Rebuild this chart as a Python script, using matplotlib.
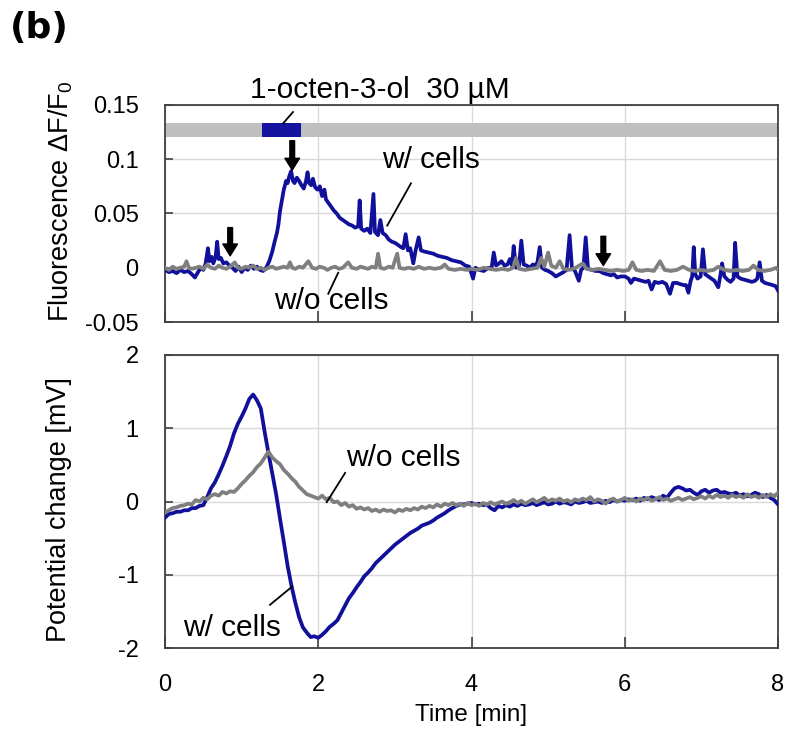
import numpy as np
import matplotlib
matplotlib.use("Agg")
import matplotlib.pyplot as plt

plt.rcParams['font.family'] = ['Liberation Sans', 'DejaVu Sans']
plt.rcParams['mathtext.fontset'] = 'custom'
plt.rcParams['mathtext.rm'] = 'Liberation Sans'
plt.rcParams['mathtext.it'] = 'Liberation Sans'

BLUE = '#10109a'
GRAY = '#7f7f7f'
SPINE = '#404040'
GRID = '#d9d9d9'

# ---------------- Fluorescence (dF/F0) ----------------
fl_cells_t = [0.00, 0.05, 0.10, 0.15, 0.20, 0.25, 0.30, 0.35, 0.39, 0.43, 0.47, 0.50, 0.53, 0.56, 0.58,
              0.61, 0.63, 0.66, 0.68, 0.70, 0.73, 0.76, 0.80, 0.84, 0.88, 0.92, 0.96, 1.00, 1.04, 1.08,
              1.12, 1.16, 1.20, 1.24, 1.28, 1.32, 1.36, 1.40, 1.43, 1.46, 1.48, 1.50, 1.52, 1.55, 1.58,
              1.60, 1.62, 1.645, 1.67, 1.69, 1.72, 1.75, 1.78, 1.81, 1.84, 1.86, 1.88, 1.91, 1.93, 1.96,
              1.99, 2.02, 2.05, 2.08, 2.10, 2.13, 2.16, 2.20, 2.24, 2.28, 2.32, 2.36, 2.40, 2.44, 2.48,
              2.52, 2.54, 2.56, 2.60, 2.64, 2.68, 2.72, 2.74, 2.78, 2.81, 2.84, 2.88, 2.92, 2.96, 3.00,
              3.04, 3.08, 3.11, 3.14, 3.17, 3.20, 3.24, 3.27, 3.31, 3.34, 3.38, 3.44, 3.50, 3.56, 3.62,
              3.68, 3.74, 3.80, 3.86, 3.92, 3.97, 4.02, 4.05, 4.10, 4.16, 4.22, 4.26, 4.29, 4.32, 4.36,
              4.39, 4.43, 4.47, 4.50, 4.53, 4.55, 4.58, 4.62, 4.65, 4.68, 4.72, 4.76, 4.80, 4.83, 4.86,
              4.89, 4.92, 4.96, 5.00, 5.05, 5.10, 5.15, 5.20, 5.24, 5.28, 5.31, 5.35, 5.40, 5.43, 5.46,
              5.49, 5.52, 5.57, 5.62, 5.67, 5.72, 5.77, 5.82, 5.86, 5.90, 5.95, 6.00, 6.05, 6.08, 6.12,
              6.17, 6.22, 6.27, 6.31, 6.35, 6.39, 6.44, 6.49, 6.54, 6.59, 6.63, 6.68, 6.72, 6.77, 6.80,
              6.83, 6.86, 6.88, 6.90, 6.92, 6.95, 6.99, 7.02, 7.05, 7.09, 7.13, 7.17, 7.22, 7.25, 7.27,
              7.30, 7.34, 7.38, 7.42, 7.44, 7.47, 7.51, 7.56, 7.61, 7.66, 7.70, 7.73, 7.76, 7.79, 7.83,
              7.88, 7.93, 7.97, 8.00]
fl_cells = [-0.002, -0.004, -0.003, -0.005, -0.002, -0.004, -0.003, -0.006, -0.009, -0.004, 0.000, -0.002, 0.004, 0.018, 0.006,
            0.010, 0.004, 0.010, 0.024, 0.008, 0.009, 0.004, 0.005, 0.002, 0.000, -0.003, 0.001, -0.004, 0.000, -0.002,
            0.002, -0.001, 0.001, -0.002, -0.003, 0.000, 0.006, 0.015, 0.024, 0.032, 0.040, 0.052, 0.060, 0.072, 0.080,
            0.078, 0.084, 0.089, 0.080, 0.078, 0.083, 0.080, 0.076, 0.073, 0.080, 0.088, 0.078, 0.076, 0.082, 0.074,
            0.072, 0.075, 0.066, 0.072, 0.063, 0.060, 0.057, 0.053, 0.050, 0.046, 0.044, 0.042, 0.040, 0.039, 0.037,
            0.038, 0.062, 0.036, 0.034, 0.036, 0.032, 0.068, 0.033, 0.030, 0.044, 0.032, 0.030, 0.026, 0.024, 0.023,
            0.021, 0.019, 0.018, 0.031, 0.016, 0.018, 0.004, 0.016, 0.028, 0.016, 0.015, 0.014, 0.013, 0.011, 0.010,
            0.009, 0.007, 0.006, 0.005, 0.002, 0.001, -0.010, 0.000, -0.002, -0.003, 0.000, -0.001, 0.014, 0.002, 0.004,
            0.006, 0.002, 0.003, 0.008, 0.002, 0.020, 0.000, 0.002, 0.025, 0.003, 0.002, 0.000, 0.003, 0.002, 0.005,
            0.019, 0.000, -0.002, -0.003, -0.005, -0.008, -0.006, -0.004, -0.002, 0.030, 0.000, -0.003, -0.012, -0.002, 0.000,
            0.028, -0.001, -0.002, -0.003, -0.003, -0.005, -0.006, -0.007, -0.006, -0.009, -0.008, -0.008, -0.010, -0.014, -0.010,
            -0.011, -0.012, -0.013, -0.012, -0.020, -0.013, -0.014, -0.013, -0.015, -0.024, -0.014, -0.014, -0.015, -0.016, -0.016,
            -0.023, -0.012, -0.008, 0.019, -0.006, -0.010, -0.008, 0.017, -0.006, -0.008, -0.010, -0.012, -0.018, -0.006, 0.004,
            -0.008, -0.011, -0.013, -0.010, 0.023, -0.008, -0.010, -0.011, -0.012, -0.013, -0.012, -0.010, 0.005, -0.012, -0.014,
            -0.015, -0.016, -0.017, -0.021]

fl_nocells_t = [0.00, 0.05, 0.10, 0.15, 0.20, 0.25, 0.28, 0.31, 0.35, 0.40, 0.45, 0.50, 0.55, 0.60, 0.65,
                0.70, 0.75, 0.80, 0.85, 0.91, 0.95, 1.00, 1.05, 1.10, 1.15, 1.20, 1.25, 1.30, 1.35, 1.40,
                1.45, 1.50, 1.55, 1.60, 1.63, 1.66, 1.70, 1.75, 1.80, 1.87, 1.92, 1.97, 2.02, 2.07, 2.12,
                2.17, 2.22, 2.27, 2.32, 2.39, 2.44, 2.50, 2.55, 2.60, 2.65, 2.70, 2.75, 2.78, 2.81, 2.86,
                2.92, 2.97, 3.03, 3.06, 3.12, 3.18, 3.25, 3.31, 3.38, 3.45, 3.52, 3.60, 3.65, 3.70, 3.78,
                3.86, 3.94, 4.00, 4.08, 4.16, 4.24, 4.32, 4.40, 4.48, 4.54, 4.58, 4.62, 4.70, 4.78, 4.86,
                4.91, 4.95, 5.00, 5.04, 5.10, 5.15, 5.20, 5.28, 5.36, 5.45, 5.50, 5.58, 5.66, 5.74, 5.82,
                5.90, 5.98, 6.05, 6.10, 6.15, 6.22, 6.30, 6.38, 6.46, 6.52, 6.60, 6.68, 6.76, 6.84, 6.92,
                7.00, 7.08, 7.16, 7.22, 7.30, 7.38, 7.46, 7.54, 7.62, 7.68, 7.74, 7.82, 7.90, 7.98, 8.00]
fl_nocells = [0.000, -0.002, 0.001, -0.001, 0.000, 0.001, 0.006, 0.000, -0.001, 0.000, 0.001, -0.001, 0.003, 0.000, -0.001,
              0.002, 0.000, -0.001, 0.001, 0.005, 0.000, -0.001, 0.001, 0.000, 0.002, -0.001, 0.000, -0.002, 0.000, 0.001,
              -0.001, 0.000, 0.001, 0.000, 0.005, 0.000, -0.001, 0.001, 0.000, 0.006, 0.000, -0.001, 0.001, 0.000, -0.002,
              0.000, 0.001, -0.001, 0.000, 0.005, 0.000, -0.001, 0.001, 0.000, -0.001, 0.001, 0.000, 0.013, 0.000, -0.001,
              0.001, 0.000, 0.013, 0.000, -0.001, 0.000, -0.001, 0.001, -0.001, 0.000, -0.001, 0.000, 0.003, -0.001, -0.002,
              -0.001, -0.002, -0.001, -0.002, 0.000, -0.001, -0.002, -0.001, -0.002, 0.000, 0.009, -0.001, -0.002, -0.001, 0.000,
              0.009, 0.001, 0.014, 0.002, 0.000, 0.006, -0.001, -0.002, 0.000, 0.004, -0.001, -0.002, -0.001, -0.002, -0.003,
              -0.002, -0.003, -0.002, 0.005, -0.002, -0.003, -0.002, -0.003, 0.006, -0.002, -0.003, -0.002, 0.001, -0.002, -0.003,
              -0.002, -0.003, -0.002, 0.001, -0.002, -0.003, -0.002, -0.003, -0.002, 0.002, -0.002, -0.003, -0.002, 0.000, -0.002]

# odorant application window (min) and marked time points
odor_window = [1.27, 1.77]
arrow_times = [0.85, 1.66, 5.72]
arrow_tail = [0.037, 0.117, 0.029]
arrow_tip = [0.011, 0.090, 0.002]

# ---------------- Potential change (mV), sampled every 0.05 min ----------------
pot_t = np.linspace(0, 8, 161)
pot_cells = [
    -0.22, -0.17, -0.16, -0.14, -0.14, -0.12, -0.12, -0.09, -0.09, -0.06,
    -0.05, 0.06, 0.18, 0.26, 0.37, 0.49, 0.62, 0.76, 0.93, 1.06,
    1.16, 1.27, 1.40, 1.46, 1.38, 1.27, 0.95, 0.66, 0.38, 0.10,
    -0.23, -0.55, -0.88, -1.15, -1.38, -1.58, -1.72, -1.79, -1.85, -1.84,
    -1.86, -1.82, -1.77, -1.71, -1.67, -1.62, -1.52, -1.42, -1.32, -1.25,
    -1.17, -1.10, -1.02, -0.97, -0.91, -0.84, -0.79, -0.74, -0.69, -0.64,
    -0.59, -0.55, -0.51, -0.47, -0.43, -0.40, -0.37, -0.33, -0.31, -0.29,
    -0.26, -0.22, -0.19, -0.16, -0.12, -0.09, -0.06, -0.04, -0.04, -0.03,
    -0.02, -0.04, -0.03, -0.05, -0.04, -0.09, -0.12, -0.06, -0.08, -0.05,
    -0.07, -0.04, -0.06, -0.03, -0.05, -0.04, -0.02, -0.05, -0.03, -0.01,
    -0.04, -0.03, 0.00, -0.03, -0.01, -0.02, -0.04, 0.00, -0.02, -0.01,
    0.01, -0.02, -0.01, 0.00, -0.02, 0.01, -0.01, 0.02, 0.00, 0.02,
    0.01, 0.03, 0.02, 0.04, 0.01, 0.05, 0.03, 0.06, 0.04, 0.02,
    0.08, 0.05, 0.12, 0.18, 0.20, 0.18, 0.15, 0.16, 0.12, 0.09,
    0.14, 0.16, 0.12, 0.15, 0.16, 0.12, 0.13, 0.11, 0.10, 0.12,
    0.08, 0.10, 0.07, 0.09, 0.12, 0.10, 0.06, 0.09, 0.05, 0.02,
    -0.04]
pot_nocells = [
    -0.15, -0.12, -0.09, -0.08, -0.06, -0.05, -0.03, -0.04, 0.02, 0.00,
    0.05, 0.03, 0.08, 0.10, 0.08, 0.13, 0.11, 0.14, 0.13, 0.18,
    0.24, 0.29, 0.35, 0.40, 0.47, 0.52, 0.60, 0.68, 0.60, 0.55,
    0.51, 0.43, 0.38, 0.32, 0.27, 0.20, 0.15, 0.10, 0.08, 0.06,
    0.04, 0.08, 0.03, 0.05, -0.01, 0.00, -0.05, -0.02, -0.07, -0.05,
    -0.10, -0.08, -0.11, -0.09, -0.13, -0.11, -0.14, -0.11, -0.13, -0.12,
    -0.15, -0.11, -0.13, -0.10, -0.12, -0.09, -0.11, -0.07, -0.09, -0.06,
    -0.08, -0.04, -0.07, -0.03, -0.05, -0.02, -0.05, -0.03, -0.06, -0.02,
    -0.05, -0.03, -0.06, -0.02, -0.04, -0.01, -0.04, -0.02, 0.00, -0.03,
    -0.01, 0.02, -0.02, 0.01, -0.03, 0.00, 0.03, -0.01, 0.02, 0.05,
    0.00, 0.03, 0.01, 0.04, 0.00, 0.02, -0.01, 0.03, 0.01, 0.04,
    0.02, 0.06, 0.00, 0.03, 0.01, -0.03, 0.02, 0.04, 0.00, 0.02,
    0.05, 0.01, 0.03, 0.00, 0.04, 0.02, 0.05, 0.01, 0.03, 0.06,
    0.02, 0.04, 0.01, 0.03, 0.05, 0.02, 0.04, 0.06, 0.03, 0.05,
    0.07, 0.04, 0.08, 0.05, 0.09, 0.06, 0.08, 0.05, 0.09, 0.06,
    0.08, 0.05, 0.10, 0.06, 0.08, 0.05, 0.09, 0.06, 0.10, 0.07,
    0.12]

x_ticks = [0, 2, 4, 6, 8]
x_ticklabels = ['0', '2', '4', '6', '8']
fl_ticks = [-0.05, 0, 0.05, 0.1, 0.15]
fl_ticklabels = ['-0.05', '0', '0.05', '0.1', '0.15']
pot_ticks = [-2, -1, 0, 1, 2]
pot_ticklabels = ['-2', '-1', '0', '1', '2']

TICK_FS = 17
LABEL_FS = 19.5
NOTE_FS = 21.5
LW = 2.7

fig = plt.figure(figsize=(7.87, 7.31), dpi=100)
ax1 = fig.add_axes([0.2097, 0.5595, 0.7789, 0.2969])
ax2 = fig.add_axes([0.2097, 0.1135, 0.7789, 0.4009])


def style_axes(ax):
    for s in ax.spines.values():
        s.set_color(SPINE)
        s.set_linewidth(1.3)
    ax.grid(True, color=GRID, linewidth=1.0)
    ax.set_axisbelow(True)
    ax.tick_params(direction='in', length=6, width=1.2, color=SPINE,
                   labelsize=TICK_FS, pad=19, top=False, right=False)
    ax.set_xlim(0, 8)
    ax.set_xticks(x_ticks)


# ---- top panel ----
style_axes(ax1)
ax1.set_ylim(-0.05, 0.15)
ax1.set_yticks(fl_ticks)
ax1.set_yticklabels(fl_ticklabels)
ax1.set_xticklabels([])
ax1.tick_params(axis='x', length=8)

ax1.axhspan(0.1205, 0.1333, color='#bfbfbf', lw=0, zorder=1.5)
ax1.fill_between(odor_window, 0.1205, 0.1333, color='#1414a0', lw=0, zorder=1.6)

ax1.plot(fl_cells_t, fl_cells, color=BLUE, lw=LW, zorder=3, solid_joinstyle='round')
ax1.plot(fl_nocells_t, fl_nocells, color=GRAY, lw=LW, zorder=3.1, solid_joinstyle='round')

for t, v0, v1 in zip(arrow_times, arrow_tail, arrow_tip):
    ax1.annotate('', xy=(t, v1), xytext=(t, v0),
                 arrowprops=dict(width=3.4, headwidth=10.5, headlength=8.5,
                                 shrink=0.0, color='black'), zorder=5)

ax1.text(2.80, 0.1565, '1-octen-3-ol  30 µM', ha='center', va='baseline',
         fontsize=NOTE_FS, clip_on=False)
ax1.plot([1.67, 1.54], [0.1435, 0.1330], color='black', lw=1.3, clip_on=False, zorder=4)
ax1.text(3.47, 0.0917, 'w/ cells', ha='center', va='baseline', fontsize=NOTE_FS)
ax1.plot([3.21, 2.90], [0.0778, 0.0389], color='black', lw=1.3, zorder=4)
ax1.text(2.17, -0.038, 'w/o cells', ha='center', va='baseline', fontsize=NOTE_FS)
ax1.plot([2.26, 2.13], [-0.0046, -0.024], color='black', lw=1.3, zorder=4)

ax1.set_ylabel(r'Fluorescence $\Delta$F/F$_0$', fontsize=LABEL_FS)
ax1.yaxis.set_label_coords(-0.147, 0.558)

# ---- bottom panel ----
style_axes(ax2)
ax2.set_ylim(-2, 2)
ax2.set_yticks(pot_ticks)
ax2.set_yticklabels(pot_ticklabels)
ax2.set_xticklabels(x_ticklabels)
ax2.tick_params(axis='x', length=8)

ax2.plot(pot_t, pot_cells, color=BLUE, lw=LW, zorder=3)
ax2.plot(pot_t, pot_nocells, color=GRAY, lw=LW, zorder=3.1)

ax2.text(3.11, 0.478, 'w/o cells', ha='center', va='baseline', fontsize=NOTE_FS)
ax2.plot([2.35, 2.11], [0.39, -0.01], color='black', lw=1.3, zorder=4)
ax2.text(0.875, -1.84, 'w/ cells', ha='center', va='baseline', fontsize=NOTE_FS)
ax2.plot([1.37, 1.66], [-1.41, -1.16], color='black', lw=1.3, zorder=4)

ax2.set_ylabel('Potential change [mV]', fontsize=LABEL_FS)
ax2.yaxis.set_label_coords(-0.152, 0.471)
ax2.set_xlabel('Time [min]', fontsize=17.5)
ax2.xaxis.set_label_coords(0.5, -0.19)

fig.text(0.0127, 0.962, '(b)', fontsize=26, fontweight='bold',
         family='DejaVu Sans', va='center', ha='left')

fig.savefig('out.png', dpi=100)
